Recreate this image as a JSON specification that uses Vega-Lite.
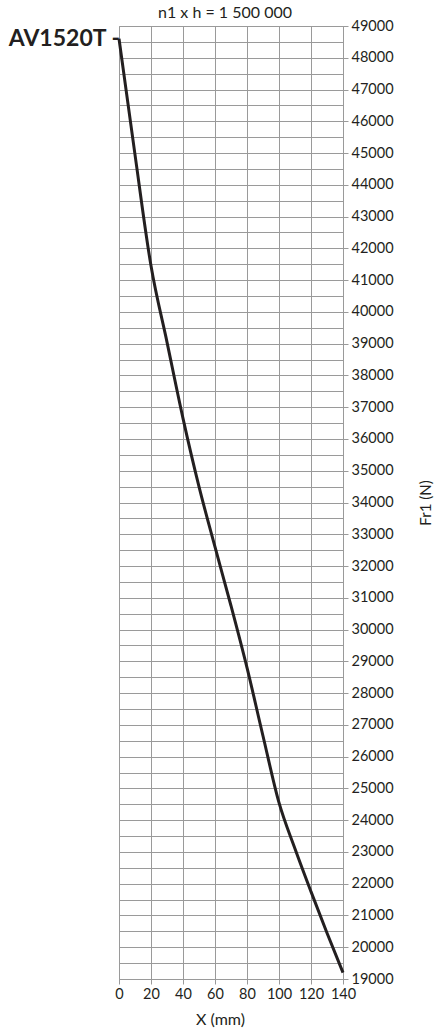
{
  "$schema": "https://vega.github.io/schema/vega-lite/v6.json",
  "width": 224,
  "height": 953,
  "autosize": "none",
  "padding": {"left": 119, "top": 26, "right": 93, "bottom": 52},
  "background": "white",
  "config": {"font": "Lato", "view": {"stroke": "#9a9a9a", "strokeWidth": 1}},
  "title": {"text": "n1 x h = 1 500 000", "fontSize": 16, "fontWeight": "normal", "color": "#231f20", "offset": -3, "dx": -6, "font": "Lato"},
  "data": {"values": [
    {"x": 0, "fr1": 48600},
    {"x": 10, "fr1": 44950},
    {"x": 20, "fr1": 41450},
    {"x": 30, "fr1": 39050},
    {"x": 40, "fr1": 36650},
    {"x": 50, "fr1": 34500},
    {"x": 60, "fr1": 32600},
    {"x": 70, "fr1": 30750},
    {"x": 80, "fr1": 28800},
    {"x": 90, "fr1": 26650},
    {"x": 100, "fr1": 24550},
    {"x": 110, "fr1": 23100},
    {"x": 120, "fr1": 21750},
    {"x": 130, "fr1": 20450},
    {"x": 140, "fr1": 19200}
  ]},
  "encoding": {
    "x": {
      "field": "x", "type": "quantitative",
      "scale": {"domain": [0, 140], "nice": false},
      "axis": {
        "values": [0, 20, 40, 60, 80, 100, 120, 140],
        "grid": true, "gridColor": "#9a9a9a", "gridOpacity": 1,
        "domainColor": "#9a9a9a", "tickColor": "#9a9a9a", "tickSize": 5,
        "labelFontSize": 14.5, "labelColor": "#231f20", "labelPadding": 3, "labelFlush": false,
        "title": "X (mm)", "titleFontSize": 16, "titleFontWeight": "normal", "titleColor": "#231f20", "titlePadding": 11, "titleX": 101
      }
    },
    "y": {
      "field": "fr1", "type": "quantitative",
      "scale": {"domain": [19000, 49000], "nice": false, "zero": false},
      "axis": {
        "orient": "right",
        "values": [19000, 19500, 20000, 20500, 21000, 21500, 22000, 22500, 23000, 23500, 24000, 24500, 25000, 25500, 26000, 26500, 27000, 27500, 28000, 28500, 29000, 29500, 30000, 30500, 31000, 31500, 32000, 32500, 33000, 33500, 34000, 34500, 35000, 35500, 36000, 36500, 37000, 37500, 38000, 38500, 39000, 39500, 40000, 40500, 41000, 41500, 42000, 42500, 43000, 43500, 44000, 44500, 45000, 45500, 46000, 46500, 47000, 47500, 48000, 48500, 49000],
        "format": "d",
        "labelExpr": "datum.value % 1000 === 0 ? datum.label : ''",
        "grid": true, "gridColor": "#9a9a9a", "gridOpacity": 1,
        "domainColor": "#9a9a9a", "tickColor": "#9a9a9a", "tickSize": 5,
        "tickOpacity": {"condition": {"test": "datum.value % 1000 === 0", "value": 1}, "value": 0},
        "labelFontSize": 14.5, "labelColor": "#231f20", "labelPadding": 3, "labelFlush": false, "labelOverlap": false,
        "title": "Fr1 (N)", "titleAngle": 270, "titleFontSize": 15, "titleFontWeight": "normal", "titleColor": "#231f20", "titlePadding": 40
      }
    }
  },
  "layer": [
    {
      "mark": {"type": "line", "color": "#231f20", "strokeWidth": 3, "interpolate": "monotone"}
    },
    {
      "data": {"values": [{"x": 0, "fr1": 48600, "label": "AV1520T -"}]},
      "mark": {"type": "text", "align": "right", "baseline": "middle", "fontWeight": "bold", "fontSize": 23, "dx": 1, "color": "#231f20", "font": "Lato"},
      "encoding": {
        "text": {"field": "label"}
      }
    }
  ]
}
